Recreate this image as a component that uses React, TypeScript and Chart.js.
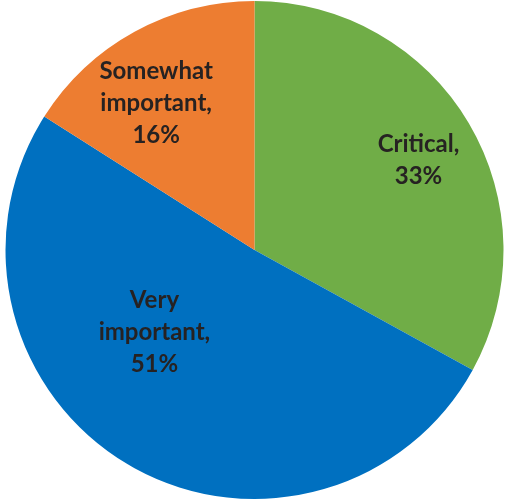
import React, { useEffect, useRef } from "react";
import { Chart, registerables } from "chart.js";

Chart.register(...registerables);

const categories = ["Critical", "Very important", "Somewhat important"];
const values = [33, 51, 16];
const colors = ["#70AD47", "#0070C0", "#ED7D31"];
// label placement: fraction of radius and angular shift (degrees) from slice middle
const labelRadius = [0.75, 0.52, 0.71];
const labelShift = [2, 20, -5];

const labelPlugin = {
  id: "sliceLabels",
  afterDatasetsDraw(chart: any) {
    const ctx = chart.ctx;
    const meta = chart.getDatasetMeta(0);
    ctx.save();
    ctx.font = "bold 24px Lato, 'Open Sans', sans-serif";
    ctx.fillStyle = "#262222";
    ctx.textAlign = "center";
    ctx.textBaseline = "middle";
    meta.data.forEach((arc: any, i: number) => {
      const p = arc.getProps(["x", "y", "startAngle", "endAngle", "outerRadius"], true);
      const mid = (p.startAngle + p.endAngle) / 2 + (labelShift[i] * Math.PI) / 180;
      const r = p.outerRadius * labelRadius[i];
      const cx = p.x + Math.cos(mid) * r;
      const cy = p.y + Math.sin(mid) * r;
      const words = categories[i].split(" ");
      const lines = [...words.slice(0, -1), words[words.length - 1] + ",", values[i] + "%"];
      const lh = 32;
      const top = cy - ((lines.length - 1) * lh) / 2;
      lines.forEach((ln, k) => ctx.fillText(ln, cx, top + k * lh));
    });
    ctx.restore();
  },
};

export default function App() {
  const ref = useRef<HTMLCanvasElement | null>(null);
  useEffect(() => {
    document.body.style.margin = "0";
    const chart = new Chart(ref.current as HTMLCanvasElement, {
      type: "pie",
      data: {
        labels: categories,
        datasets: [
          {
            data: values,
            backgroundColor: colors,
            borderWidth: 0,
          },
        ],
      },
      options: {
        responsive: false,
        animation: false,
        devicePixelRatio: 1,
        layout: { padding: { top: 1, bottom: 2, left: 5, right: 2 } },
        plugins: { legend: { display: false }, tooltip: { enabled: false } },
      },
      plugins: [labelPlugin],
    });
    return () => chart.destroy();
  }, []);
  return (
    <div style={{ position: "absolute", left: 0, top: 0, width: 506, height: 501, background: "#fff" }}>
      <canvas ref={ref} width={506} height={501} />
    </div>
  );
}
